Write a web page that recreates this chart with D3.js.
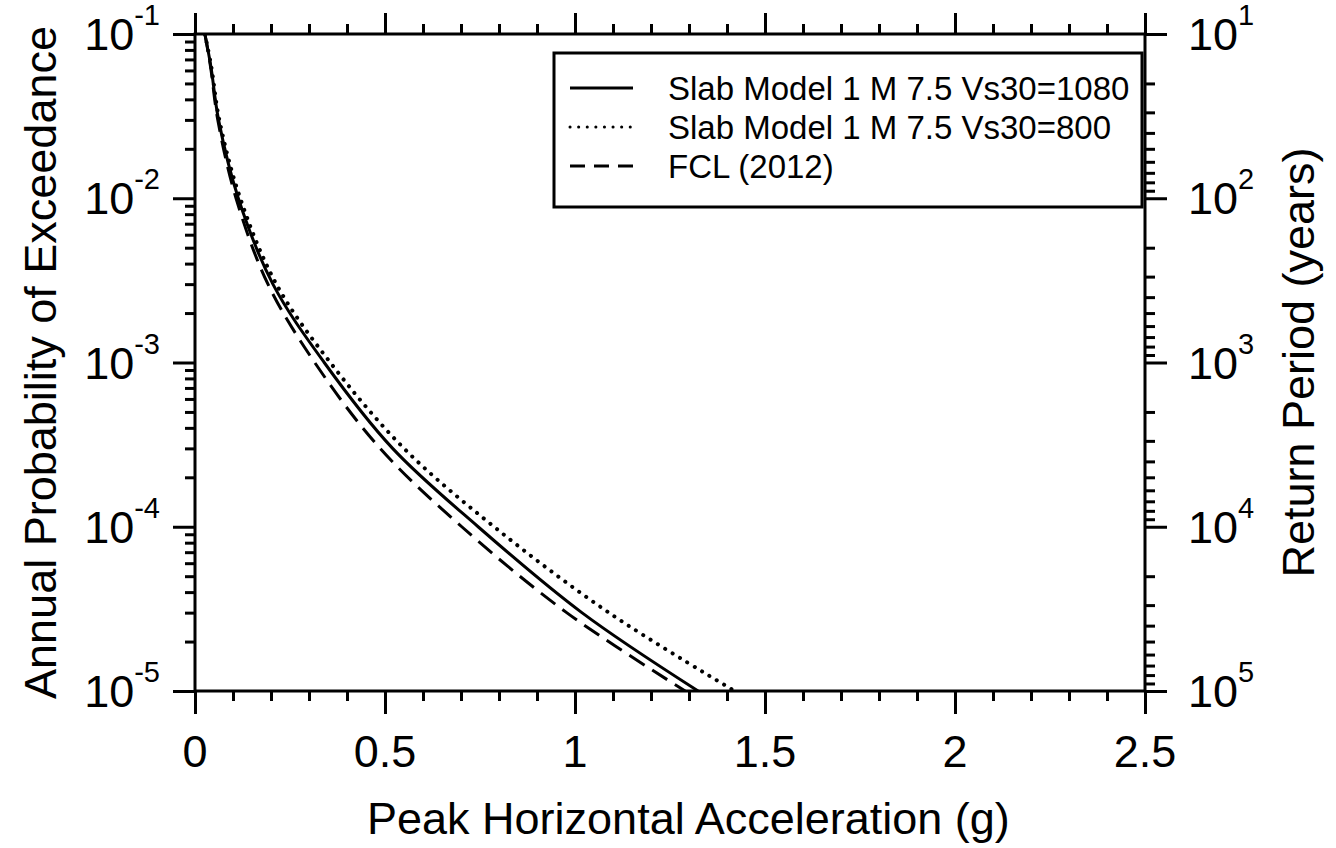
<!DOCTYPE html>
<html>
<head>
<meta charset="utf-8">
<script src="https://cdn.jsdelivr.net/npm/d3@7"></script>
<style>
  html, body { margin: 0; padding: 0; background: #fff; }
  svg { display: block; font-family: "Liberation Sans", Arial, Helvetica, sans-serif; }
</style>
</head>
<body>
<svg id="chart" width="1336" height="848"></svg>
<script>
// ---------------- data ----------------
const probLevels = [1e-1, 6.3e-2, 3e-2, 1e-2, 3e-3, 1e-3, 3e-4, 1e-4, 3e-5, 1e-5];
const pgaSlab1080 = [0.026, 0.042, 0.062, 0.114, 0.205, 0.340, 0.520, 0.745, 1.018, 1.324];
const pgaSlab800  = [0.026, 0.043, 0.064, 0.119, 0.214, 0.356, 0.550, 0.787, 1.089, 1.420];
const pgaFCL2012  = [0.026, 0.041, 0.060, 0.108, 0.192, 0.315, 0.487, 0.702, 0.978, 1.290];

const seriesNames = ["Slab Model 1 M 7.5 Vs30=1080", "Slab Model 1 M 7.5 Vs30=800", "FCL (2012)"];

const xMajorTicks = [0, 0.5, 1, 1.5, 2, 2.5];
const xTickLabels = ["0", "0.5", "1", "1.5", "2", "2.5"];
const yExponents = [-1, -2, -3, -4, -5];
const rpExponents = [1, 2, 3, 4, 5];

const xTitle = "Peak Horizontal Acceleration (g)";
const yTitle = "Annual Probability of Exceedance";
const y2Title = "Return Period (years)";

// ---------------- layout ----------------
const L = 195, R = 1145, T = 34, B = 691;
const svg = d3.select("#chart");

const x = d3.scaleLinear().domain([0, 2.5]).range([L, R]);
const y = d3.scaleLog().domain([1e-5, 1e-1]).range([B, T]);
const y2 = d3.scaleLog().domain([10, 1e5]).range([T, B]);

const xMinor = d3.range(0, 26).map(i => i / 10).filter(v => Math.abs(v * 2 - Math.round(v * 2)) > 1e-9);
const yMinor = [];
for (let e = -5; e < -1; e++) for (let m = 2; m <= 9; m++) yMinor.push(m * Math.pow(10, e));
const y2Minor = [];
for (let e = 1; e < 5; e++) for (let m = 2; m <= 9; m++) y2Minor.push(m * Math.pow(10, e));

const SW = 3;
function styleAxis(g) {
  g.selectAll("path").remove();
  g.selectAll("line").attr("stroke", "#000").attr("stroke-width", SW);
  g.selectAll("text").remove();
}

// bottom
svg.append("g").attr("transform", `translate(0,${B})`)
  .call(d3.axisBottom(x).tickValues(xMajorTicks).tickSize(23).tickFormat("")).call(styleAxis);
svg.append("g").attr("transform", `translate(0,${B})`)
  .call(d3.axisBottom(x).tickValues(xMinor).tickSize(10).tickFormat("")).call(styleAxis);
// top
svg.append("g").attr("transform", `translate(0,${T})`)
  .call(d3.axisTop(x).tickValues(xMajorTicks).tickSize(21).tickFormat("")).call(styleAxis);
svg.append("g").attr("transform", `translate(0,${T})`)
  .call(d3.axisTop(x).tickValues(xMinor).tickSize(10).tickFormat("")).call(styleAxis);
// left
svg.append("g").attr("transform", `translate(${L},0)`)
  .call(d3.axisLeft(y).tickValues(yExponents.map(e => Math.pow(10, e))).tickSize(22).tickFormat("")).call(styleAxis);
svg.append("g").attr("transform", `translate(${L},0)`)
  .call(d3.axisLeft(y).tickValues(yMinor).tickSize(10).tickFormat("")).call(styleAxis);
// right
svg.append("g").attr("transform", `translate(${R},0)`)
  .call(d3.axisRight(y2).tickValues(rpExponents.map(e => Math.pow(10, e))).tickSize(22).tickFormat("")).call(styleAxis);
svg.append("g").attr("transform", `translate(${R},0)`)
  .call(d3.axisRight(y2).tickValues(y2Minor).tickSize(10).tickFormat("")).call(styleAxis);

// frame
svg.append("rect").attr("x", L).attr("y", T).attr("width", R - L).attr("height", B - T)
  .attr("fill", "none").attr("stroke", "#000").attr("stroke-width", SW);

// x tick labels
svg.append("g").selectAll("text").data(xMajorTicks).join("text")
  .attr("x", d => x(d)).attr("y", 767).attr("text-anchor", "middle")
  .attr("font-size", 45).text((d, i) => xTickLabels[i]);

// left tick labels
const lt = svg.append("g").selectAll("text").data(yExponents).join("text")
  .attr("x", 160).attr("y", d => y(Math.pow(10, d)) + 16).attr("text-anchor", "end").attr("font-size", 45);
lt.append("tspan").text("10");
lt.append("tspan").attr("dy", -25).attr("font-size", 29).text(d => String(d));

// right tick labels
const rt = svg.append("g").selectAll("text").data(rpExponents).join("text")
  .attr("x", 1188).attr("y", d => y2(Math.pow(10, d)) + 16).attr("font-size", 45);
rt.append("tspan").text("10");
rt.append("tspan").attr("dy", -25).attr("font-size", 29).text(d => String(d));

// titles
svg.append("text").attr("x", 367).attr("y", 834).attr("font-size", 45).text(xTitle);
svg.append("text").attr("transform", `translate(56,${(T + B) / 2}) rotate(-90)`)
  .attr("text-anchor", "middle").attr("font-size", 45).text(yTitle);
svg.append("text").attr("transform", `translate(1314,${(T + B) / 2}) rotate(-90)`)
  .attr("text-anchor", "middle").attr("font-size", 45).text(y2Title);

// curves
const series = [
  { name: seriesNames[0], vals: pgaSlab1080, dash: null, cap: "butt" },
  { name: seriesNames[1], vals: pgaSlab800, dash: "0.1,8.5", cap: "round" },
  { name: seriesNames[2], vals: pgaFCL2012, dash: "18,9", cap: "butt" }
];
const line = d3.line().x(d => x(d[0])).y(d => y(d[1])).curve(d3.curveCatmullRom.alpha(0.5));
svg.append("clipPath").attr("id", "clip").append("rect")
  .attr("x", L).attr("y", T).attr("width", R - L).attr("height", B - T);
svg.append("g").attr("clip-path", "url(#clip)").selectAll("path").data(series).join("path")
  .attr("d", s => line(s.vals.map((v, i) => [v, probLevels[i]])))
  .attr("fill", "none").attr("stroke", "#000")
  .attr("stroke-width", s => s.cap === "round" ? 4 : 3)
  .attr("stroke-linecap", s => s.cap)
  .attr("stroke-dasharray", s => s.dash);

// legend
const lg = svg.append("g");
lg.append("rect").attr("x", 554).attr("y", 53).attr("width", 1142 - 554).attr("height", 207 - 53)
  .attr("fill", "#fff").attr("stroke", "#000").attr("stroke-width", SW);
const rowY = [88, 127, 166];
series.forEach((s, i) => {
  lg.append("line").attr("x1", 570).attr("x2", 633).attr("y1", rowY[i]).attr("y2", rowY[i])
    .attr("stroke", "#000").attr("stroke-width", s.cap === "round" ? 3 : 3)
    .attr("stroke-linecap", s.cap)
    .attr("stroke-dasharray", s.dash === "18,9" ? "15,9" : s.dash);
  lg.append("text").attr("x", 668).attr("y", rowY[i] + 12).attr("font-size", 33).text(s.name);
});
</script>
</body>
</html>
